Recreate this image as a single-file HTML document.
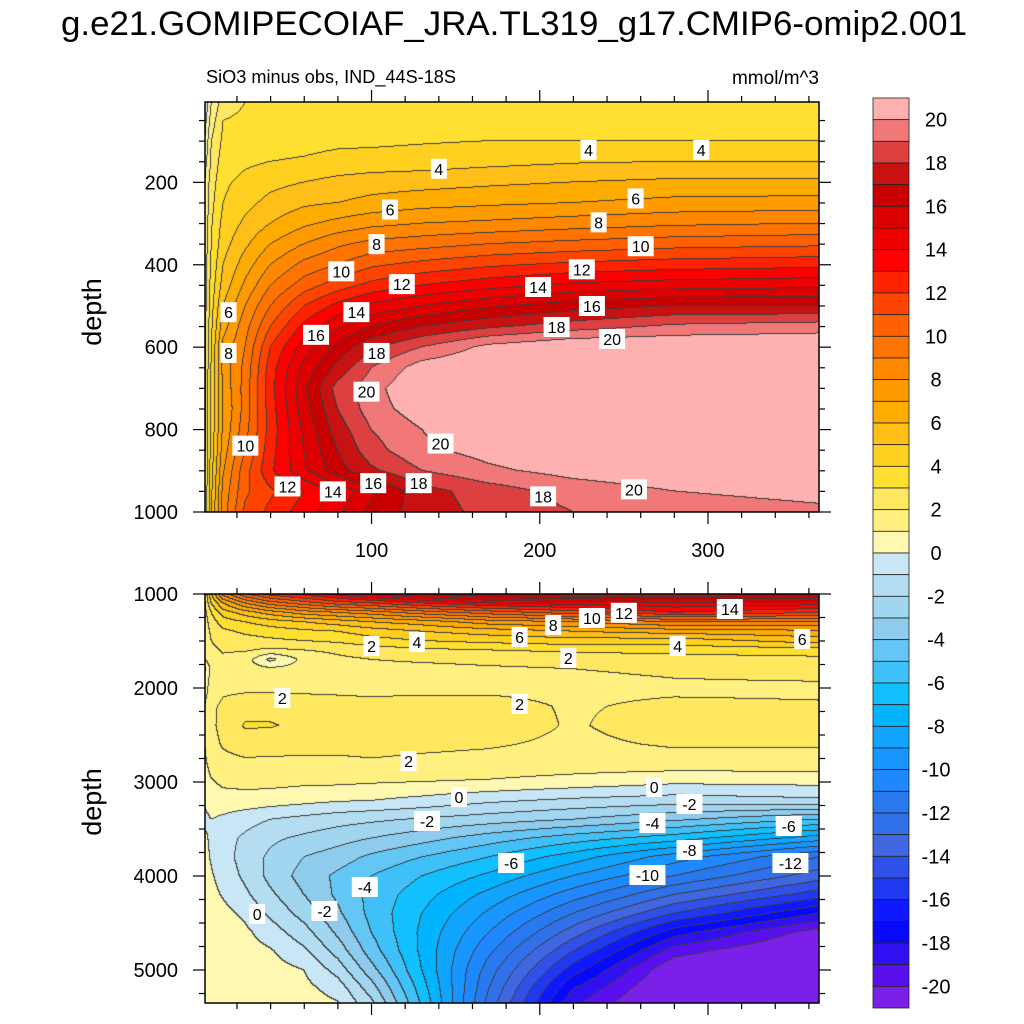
<!DOCTYPE html>
<html><head><meta charset="utf-8">
<style>
html,body{margin:0;padding:0;background:#fff;}
#wrap{position:relative;width:1024px;height:1024px;overflow:hidden;font-family:"Liberation Sans",sans-serif;}
canvas{position:absolute;}
svg{position:absolute;left:0;top:0;}
</style></head>
<body>
<div id="wrap">
<canvas id="cTop" width="614" height="410" style="left:205px;top:102px"></canvas>
<canvas id="cBot" width="614" height="409" style="left:205px;top:594px"></canvas>
<svg id="ov" width="1024" height="1024">
<text x="514" y="35" font-size="34" text-anchor="middle" textLength="906" lengthAdjust="spacingAndGlyphs">g.e21.GOMIPECOIAF_JRA.TL319_g17.CMIP6-omip2.001</text>
<text x="206" y="83" font-size="18" textLength="250" lengthAdjust="spacingAndGlyphs">SiO3 minus obs, IND_44S-18S</text>
<text x="819" y="84" font-size="19" text-anchor="end">mmol/m^3</text>
<text transform="translate(101,312) rotate(-90)" font-size="27" text-anchor="middle">depth</text>
<text transform="translate(101,802) rotate(-90)" font-size="27" text-anchor="middle">depth</text>
</svg>
</div>
<script>
// ---- data ----
const xs = [1, 5, 12, 25, 40, 60, 80, 100, 130, 170, 220, 280, 366];
const topDepths = [5,50,100,150,200,250,300,350,400,450,500,550,600,650,700,750,800,850,900,950,1000];
const topValues = [
[-1,1,2.5,3,3,3,3,3,3,3,3,3,3],
[-0.5,1.5,3,3.2,3.3,3.3,3.3,3.3,3.4,3.5,3.6,3.6,3.6],
[0,2,3.2,3.5,3.6,3.7,3.8,3.8,3.9,4,4,4,4],
[0.5,2.2,3.5,3.8,4,4.1,4.3,4.4,4.5,4.7,4.9,5,5],
[1,2.5,3.8,4.3,4.7,5,5.3,5.5,5.6,5.8,6,6.2,6.2],
[1,2.7,4,4.7,5.3,5.8,6,6.3,6.6,6.8,7,7.3,7.4],
[1.2,2.9,4.3,5.2,6,6.8,7.3,7.7,8,8.2,8.5,8.8,9],
[1.3,3,4.6,5.8,7,8,8.8,9.3,9.6,10,10.3,10.6,10.8],
[1.4,3.2,5,6.5,8,9.3,10,10.8,11.3,11.8,12.2,12.5,12.7],
[1.5,3.4,5.4,7.2,9,10.5,11.5,12.3,13,13.6,14.2,14.5,14.7],
[1.5,3.6,6,8,10,12,13.3,14.2,15,15.8,16.5,17,17],
[1.6,3.8,6.6,8.6,11,13.3,14.8,16,17,17.8,18.5,19.2,19.5],
[1.7,4,7.3,9,12,14.5,16.3,17.8,19,20.3,21,21,21],
[1.8,4.1,7.3,9.3,12.5,15.3,17.3,19,20.5,21,21,21,21],
[1.8,4.2,7.2,9.4,12.6,15.8,18.4,19.6,21,21,21,21,21],
[1.8,4.2,7,9.4,12.5,15.5,18,19.5,20.6,21,21,21,21],
[1.8,4.3,7.2,9.6,12.4,15.2,17.5,19,20,20.8,21,21,21],
[1.8,4.4,7.5,10,12.6,15,17,18.6,19.8,20.4,21,21,21],
[1.9,4.6,7.9,10.6,12.8,14.8,16.6,17.8,19,19.8,20.4,20.8,21],
[2,4.8,8.3,10.8,11.8,13,14.2,15.8,17.6,18.5,19.4,20,20.3],
[2,5,8.5,11.2,12.3,13.5,14.8,16.3,17.5,18.3,19,19.5,19.8]];
const botDepths = [1000,1100,1200,1300,1400,1500,1600,1700,1800,1900,2000,2200,2400,2600,2800,3000,3200,3400,3600,3800,4000,4200,4400,4600,4800,5000,5200,5400];
const botValues = [
[2,5,8.5,11,12.5,13.5,14.5,15.5,16.5,17.5,18,18,17.5],
[1.8,4,6,8,9.5,10.5,11.5,12,13,14,14.5,14.8,14.5],
[1.6,3,4.5,5.5,6.5,7.5,8,8.5,9.5,10.5,11.5,13,12],
[1.5,2.5,3.5,4,4.5,5,5.5,6,6.5,7.5,8,9,9],
[1.4,2.2,2.8,3.2,3.5,3.8,4,4.5,5,5.5,6,6.5,6.8],
[1.3,2,2.4,2.6,2.8,3,3.2,3.6,4,4.3,4.6,4.5,5.5],
[1.2,1.8,2.1,2.1,1.8,2,2.2,2.5,2.8,3,3.2,3.4,3.6],
[1,1.6,1.8,1.5,-0.3,1.3,1.8,2,2.1,2.2,2.3,2.5,2.7],
[-0.3,1.4,1.6,1.4,1.2,1.4,1.7,1.8,1.8,1.9,2,2.1,2.2],
[0.5,1.3,1.5,1.5,1.5,1.6,1.6,1.7,1.7,1.8,1.9,2,2.1],
[0.5,1.5,1.8,1.8,1.8,1.8,1.8,1.8,1.8,1.8,1.8,1.8,1.8],
[1,1.8,2.2,2.5,2.5,2.4,2.3,2.2,2.3,2.3,1.9,2.2,2.1],
[1,1.8,2.3,3.1,3.1,2.7,2.6,2.7,2.5,2.5,1.9,2.5,2.5],
[1,1.7,2.1,2.5,2.4,2.3,2.3,2.3,2.2,2.1,1.8,2.1,2.1],
[0.8,1.4,1.7,1.8,1.8,1.8,1.8,1.9,1.8,1.7,1.6,1.6,1.6],
[0.5,0.9,1.2,1.3,1.3,1.2,1.2,1.1,1,0.9,0.6,0.2,0.3],
[0.2,0.5,0.6,0.6,0.5,0.3,0.1,0,-0.3,-0.8,-1.2,-1.5,-1.2],
[-0.3,0,-0.2,-0.6,-1,-1.3,-1.6,-1.8,-2.1,-2.5,-3,-3.8,-5],
[0.2,-0.2,-0.6,-1.2,-1.8,-2.2,-2.6,-3,-3.6,-4.5,-5.5,-6.5,-8.5],
[0.3,-0.1,-0.6,-1.4,-2.2,-3,-3.5,-4.2,-5,-6,-7.5,-9.5,-12],
[0.4,0.1,-0.4,-1.2,-2.3,-3.4,-4.2,-5,-6,-7.2,-9,-11,-13.5],
[0.5,0.3,-0.1,-0.8,-1.8,-3,-4.2,-5.3,-6.6,-8.3,-10.5,-13,-15.5],
[0.6,0.5,0.3,-0.2,-1.2,-2.4,-3.8,-5.3,-7,-9.2,-12,-15,-18],
[0.7,0.6,0.5,0.2,-0.5,-1.6,-3.2,-5,-7.2,-10,-13.5,-17.5,-20.5],
[0.8,0.7,0.6,0.4,0.1,-0.8,-2.4,-4.5,-7.2,-10.8,-15,-19.5,-21.5],
[0.8,0.8,0.7,0.6,0.4,0,-1.4,-3.6,-7,-11.5,-16.5,-21,-22],
[0.8,0.8,0.8,0.7,0.6,0.3,-0.4,-2.5,-6.5,-12,-18,-21.5,-22],
[0.8,0.8,0.8,0.8,0.7,0.5,0.2,-1.5,-6,-12.5,-19,-22,-22]];
const colorbarLabels = [20,18,16,14,12,10,8,6,4,2,0,-2,-4,-6,-8,-10,-12,-14,-16,-18,-20];
const topTicks = [200,400,600,800,1000];
const botTicks = [1000,2000,3000,4000,5000];
const xTicks = [100,200,300];
const topLabelX = [140,229,296,111,257,103,235,82,260,118,225,91,199,67,231,103,210,243,97,141,15,15,25,50,77,101,128,202,256];
const topLabelD = [167,121,121,266,239,350,297,416,355,447,411,515,454,570,500,614,551,580,708,834,515,614,839,938,950,930,930,962,945];
const topLabelV = [4,4,4,6,6,8,8,10,10,12,12,14,14,16,16,18,18,20,20,20,6,8,10,12,14,16,18,18,20];
const botLabelX = [313,250,231,208,188,127,282,356,100,217,47,188,122,152,268,32,133,289,72,96,267,183,348,289,264,349];
const botLabelD = [1160,1200,1255,1330,1457,1510,1553,1479,1553,1680,2106,2170,2777,3160,3053,4404,3415,3234,4372,4117,3436,3862,3468,3723,3989,3862];
const botLabelV = [14,12,10,8,6,4,4,6,2,2,2,2,2,0,0,0,-2,-2,-2,-4,-4,-6,-6,-8,-10,-12];

const palette = ["#ffb0b0","#f07878","#dc4040","#c81212","#c80000","#dd0000","#ee0000","#ff0000","#ff2200","#ff4400","#ff6000","#ff7400","#ff8800","#ff9a00","#ffac00","#ffbe18","#ffd020","#ffe030","#ffe860","#fff080","#fff8b0",
"#c8e6f5","#b4ddf2","#a0d6f0","#8ecbec","#64c6f4","#40c0f8","#10c0ff","#00b4ff","#10a4ff","#1896ff","#2088ff","#2878f0","#3070e8","#4066e0","#3050e8","#2038f0","#1018ff","#0808ff","#3010f0","#5a10ee","#7a20e8"];

// ---- scales ----
const X0=205, X1=819, xMin=1, xMax=366;
const sx = v => X0 + (v-xMin)/(xMax-xMin)*(X1-X0);
const topY0=102, topY1=512, topDMin=5, topDMax=1000;
const syTop = d => topY0 + (d-topDMin)/(topDMax-topDMin)*(topY1-topY0);
const botY0=594, botY1=1003, botDMin=1000, botDMax=5351;
const syBot = d => botY0 + (d-botDMin)/(botDMax-botDMin)*(botY1-botY0);

function findIdx(arr,v){let i=0;while(i<arr.length-2&&v>arr[i+1])i++;let t=(v-arr[i])/(arr[i+1]-arr[i]);t=Math.max(0,Math.min(1,t));return [i,t];}
function interp(grid,ds,d,x){const [j,tx]=findIdx(xs,x);const [i,ty]=findIdx(ds,d);
 const a=grid[i][j],b=grid[i][j+1],c=grid[i+1][j],e=grid[i+1][j+1];
 return (a*(1-tx)+b*tx)*(1-ty)+(c*(1-tx)+e*tx)*ty;}
function idxOf(v){let L=Math.floor(v);let k=20-L;return Math.max(0,Math.min(41,k));}
function hex(h){return [parseInt(h.substr(1,2),16),parseInt(h.substr(3,2),16),parseInt(h.substr(5,2),16)];}
const pal=palette.map(hex);

function drawPanel(id,grid,ds,dMin,dMax){
 const cv=document.getElementById(id),ctx=cv.getContext('2d');const W=cv.width,H=cv.height;
 const img=ctx.createImageData(W,H);const K=new Int8Array(W*H);
 for(let py=0;py<H;py++){const d=dMin+(py+0.5)/H*(dMax-dMin);
  for(let px=0;px<W;px++){const x=xMin+(px+0.5)/W*(xMax-xMin);K[py*W+px]=idxOf(interp(grid,ds,d,x));}}
 for(let p=0;p<W*H;p++){const px=p%W,py=(p/W)|0;let k=K[p];let c=pal[k];
  let edge=(px<W-1&&K[p+1]!==k)||(py<H-1&&K[p+W]!==k);
  if(edge){c=[60,60,60];}
  img.data[p*4]=c[0];img.data[p*4+1]=c[1];img.data[p*4+2]=c[2];img.data[p*4+3]=255;}
 ctx.putImageData(img,0,0);}
drawPanel('cTop',topValues,topDepths,topDMin,topDMax);
drawPanel('cBot',botValues,botDepths,botDMin,botDMax);

// ---- overlay ----
const NS="http://www.w3.org/2000/svg";const ov=document.getElementById('ov');
function mk(tag,attrs,parent){const e=document.createElementNS(NS,tag);for(const k in attrs)e.setAttribute(k,attrs[k]);(parent||ov).appendChild(e);return e;}
function line(x1,y1,x2,y2,nm){const l=mk('line',{x1,y1,x2,y2,stroke:'#000','stroke-width':1.2});
 
 return l;}

function frame(y0,y1,sy,dMin,dMax,ticks,minorStep,prefix,showX){
 const r=mk('rect',{x:X0,y:y0,width:X1-X0,height:y1-y0,fill:'none',stroke:'#000','stroke-width':1.5});
 
 
 for(let d=Math.ceil(dMin/minorStep)*minorStep;d<=dMax;d+=minorStep){
  const y=sy(d);const major=ticks.includes(d);const L=major?12:6;
  line(X0-L,y,X0,y,prefix+'-y-tick');line(X1,y,X1+L,y,prefix+'-y-tick-right');}
 ticks.forEach(d=>{const t=mk('text',{x:X0-27,y:sy(d)+7,'font-size':20,'text-anchor':'end'});t.textContent=d;
  
  });
 for(let x=20;x<=xMax;x+=20){const px=sx(x);const major=xTicks.includes(x);const L=major?12:6;
  line(px,y0-L,px,y0,prefix+'-x-tick-top');line(px,y1,px,y1+L,prefix+'-x-tick-bottom');}
 if(showX){xTicks.forEach(x=>{const t=mk('text',{x:sx(x),y:y1+45,'font-size':20,'text-anchor':'middle'});t.textContent=x;
  
  });}
}
frame(topY0,topY1,syTop,topDMin,topDMax,topTicks,50,'top',true);
frame(botY0,botY1,syBot,botDMin,botDMax,botTicks,250,'bottom',false);

function labels(lx,ld,lv,sy,prefix){
 for(let i=0;i<lx.length;i++){const cx=sx(lx[i]),cy=sy(ld[i]);const s=String(lv[i]);const w=s.length*10+6;
  const g=mk('g',{});
  
  
  mk('rect',{x:cx-w/2,y:cy-10,width:w,height:20,fill:'#fff'},g);
  const t=mk('text',{x:cx,y:cy+6,'font-size':16,'text-anchor':'middle'},g);t.textContent=s;}
}
labels(topLabelX,topLabelD,topLabelV,syTop,'top');
labels(botLabelX,botLabelD,botLabelV,syBot,'bottom');

// colorbar
const cbX=873,cbW=36,cbTop=98,cbBot=1008;const bh=(cbBot-cbTop)/palette.length;
palette.forEach((c,i)=>{const r=mk('rect',{x:cbX,y:cbTop+i*bh,width:cbW,height:bh,fill:c,stroke:'#222','stroke-width':0.8});
 
 });
colorbarLabels.forEach(v=>{const y=cbTop+(20-v+1)*bh;const t=mk('text',{x:936,y:y+7,'font-size':20,'text-anchor':'middle'});t.textContent=v;
 
 });
</script>
</body></html>
